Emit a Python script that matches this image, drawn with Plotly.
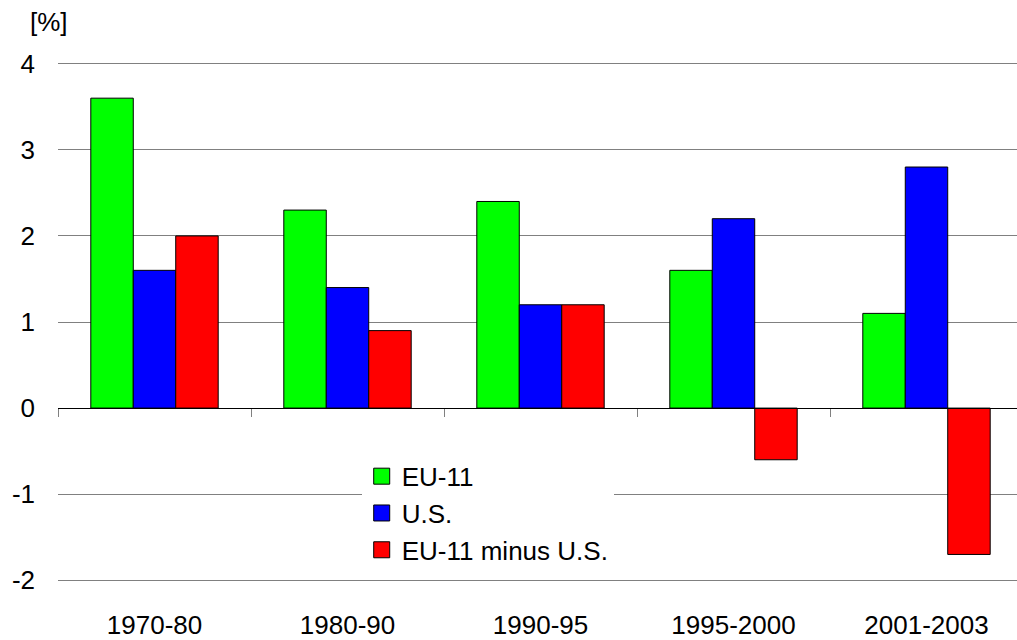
import plotly.graph_objects as go

categories = ["1970-80", "1980-90", "1990-95", "1995-2000", "2001-2003"]
eu11 = [3.6, 2.3, 2.4, 1.6, 1.1]
us = [1.6, 1.4, 1.2, 2.2, 2.8]
diff = [2.0, 0.9, 1.2, -0.6, -1.7]
y_ticks = [-2, -1, 0, 1, 2, 3, 4]
y_ticktext = ["-2", "-1", "0", "1", "2", "3", "4"]

series = [("EU-11", eu11, "#00FF00"), ("U.S.", us, "#0000FF"), ("EU-11 minus U.S.", diff, "#FF0000")]

fig = go.Figure()
for name, vals, col in series:
    fig.add_trace(go.Bar(x=list(range(len(categories))), y=vals, name=name, showlegend=False,
                         marker=dict(color=col, line=dict(color="black", width=1))))
# legend entries (square swatches)
for name, vals, col in series:
    fig.add_trace(go.Scatter(x=[None], y=[None], name=name, mode="markers",
                             marker=dict(symbol="square", size=17, color=col,
                                         line=dict(color="black", width=1))))

font = dict(family="Liberation Sans, Arial, sans-serif", size=26, color="black")
n = len(categories)
xr = [-0.5, -0.5 + 959 / 193]
fig.update_layout(
    width=1017, height=640,
    margin=dict(l=58, r=0, t=62, b=58, autoexpand=False),
    paper_bgcolor="white", plot_bgcolor="white",
    barmode="group", bargap=0.34, bargroupgap=0,
    font=font,
    showlegend=True,
    legend=dict(x=0.3167, y=0.2485, xanchor="left", yanchor="top", bgcolor="white",
                font=dict(family="Liberation Sans, Arial, sans-serif", size=26, color="black"),
                tracegroupgap=0, itemwidth=30, itemsizing="trace"),
    xaxis=dict(range=xr, tickvals=list(range(n)), ticktext=categories, automargin=False,
               showgrid=False, zeroline=False, showline=False, ticks="", ticklabelstandoff=25),
    xaxis2=dict(range=xr, overlaying="x", anchor="free", position=(0 + 2.02) / 6.04,
                tickvals=[i - 0.5 for i in range(n + 1)], ticktext=[""] * (n + 1),
                ticks="outside", ticklen=8, tickcolor="#808080", showline=True, automargin=False,
                linecolor="black", linewidth=1, showgrid=False, zeroline=False, side="bottom"),
    yaxis=dict(range=[-2.02, 4.02], tickvals=y_ticks, ticktext=y_ticktext, automargin=False,
               showgrid=True, gridcolor="#808080", gridwidth=1,
               zeroline=False, showline=False, ticks="", ticklabelstandoff=22),
    annotations=[dict(text="[%]", xref="paper", yref="paper", x=-0.0094, y=1.0, yshift=40,
                      xanchor="center", yanchor="middle", showarrow=False, font=font)],
)
fig.add_trace(go.Scatter(x=[None], y=[None], xaxis="x2", showlegend=False))
fig.write_html("out.html", post_script="document.body.style.margin='0';",
               config={"displayModeBar": False})
